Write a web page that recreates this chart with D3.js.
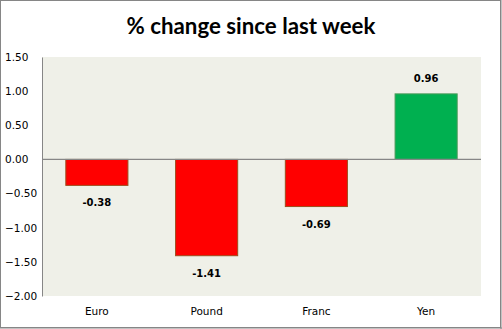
<!DOCTYPE html>
<html><head><meta charset="utf-8">
<script src="https://cdn.jsdelivr.net/npm/d3@7"></script>
<style>body{margin:0;background:#fff}svg{display:block}</style>
</head><body>
<svg id="c" width="502" height="329"></svg>
<script>
const categories = ["Euro", "Pound", "Franc", "Yen"];
const values = [-0.38, -1.41, -0.69, 0.96];
const valueLabels = ["-0.38", "-1.41", "-0.69", "0.96"];
const tickValues = [1.5, 1.0, 0.5, 0.0, -0.5, -1.0, -1.5, -2.0];
const title = "% change since last week";

const svg = d3.select("#c");
const W = 502, H = 329;
const m = {left: 42, right: 21, top: 57, bottom: 33};

svg.append("rect").attr("x", 0.5).attr("y", 0.5).attr("width", W - 2).attr("height", H - 2)
  .attr("fill", "#fff").attr("stroke", "#868686").attr("stroke-width", 1);
svg.append("line").attr("x1", W - 1).attr("x2", W - 1).attr("y1", 0).attr("y2", H).attr("stroke", "#868686");
svg.append("line").attr("x1", 0).attr("x2", W).attr("y1", H - 1).attr("y2", H - 1).attr("stroke", "#868686");

const x = d3.scaleBand().domain(categories).range([m.left, W - m.right]).paddingInner(0.425).paddingOuter(0.2125);
const y = d3.scaleLinear().domain([-2, 1.5]).range([H - m.bottom, m.top]);

svg.append("rect").attr("x", m.left).attr("y", m.top)
  .attr("width", W - m.right - m.left).attr("height", H - m.bottom - m.top).attr("fill", "#eff0e8");

// title
const t = svg.append("text").attr("x", 251).attr("y", 34).attr("text-anchor", "middle")
  .attr("font-family", "Lato, 'Open Sans', sans-serif").attr("font-weight", "bold")
  .attr("font-size", 21).attr("fill", "#000").text(title);
const tw = t.node().getComputedTextLength();
t.attr("font-size", 21 * 249 / tw);

// y axis
const yAxis = d3.axisLeft(y).tickValues(tickValues).tickFormat(d3.format(".2f")).tickSize(0).tickPadding(11);
const ga = svg.append("g").attr("transform", `translate(${m.left},0)`).call(yAxis);
ga.select(".domain").attr("stroke", "#868686");
ga.selectAll("text").attr("font-family", "'DejaVu Sans', Verdana, sans-serif").attr("font-size", 10.5).attr("fill", "#000")
  .attr("text-anchor", "start").attr("x", -37);

// x axis labels
const xAxis = d3.axisBottom(x).tickSize(0).tickPadding(12);
const gx = svg.append("g").attr("transform", `translate(0,${H - m.bottom})`).call(xAxis);
gx.select(".domain").remove();
gx.selectAll("text").attr("font-family", "'DejaVu Sans', Verdana, sans-serif").attr("font-size", 10.5).attr("fill", "#000");

// bars
svg.selectAll("rect.bar").data(values).enter().append("rect").attr("class", "bar")
  .attr("x", (d, i) => x(categories[i]) + 0.5)
  .attr("y", d => Math.min(y(d), y(0)))
  .attr("width", x.bandwidth() - 1)
  .attr("height", d => Math.abs(y(d) - y(0)))
  .attr("fill", d => d < 0 ? "#ff0000" : "#00b050")
  .attr("stroke", d => d < 0 ? "#9c4d1c" : "#4a9a5a").attr("stroke-width", 1);

// zero line
svg.append("line").attr("x1", m.left).attr("x2", W - m.right).attr("y1", y(0)).attr("y2", y(0))
  .attr("stroke", "#868686").attr("stroke-width", 1.2);

// value labels
svg.selectAll("text.val").data(values).enter().append("text").attr("class", "val")
  .attr("x", (d, i) => x(categories[i]) + x.bandwidth() / 2)
  .attr("y", d => d < 0 ? y(d) + 21 : y(d) - 12)
  .attr("text-anchor", "middle")
  .attr("font-family", "'DejaVu Sans', Tahoma, sans-serif").attr("font-weight", "bold").attr("font-size", 10)
  .attr("fill", "#000").text((d, i) => valueLabels[i]);
</script>
</body></html>
